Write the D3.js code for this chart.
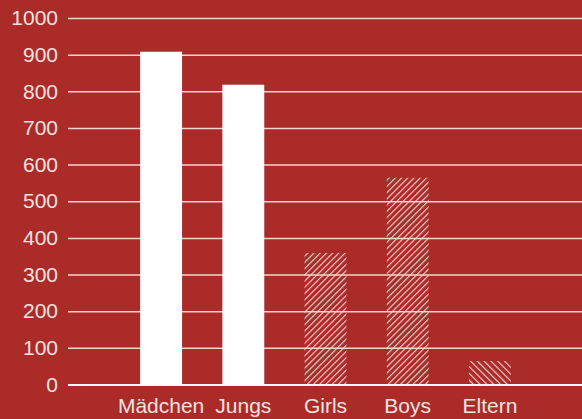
<!DOCTYPE html>
<html>
<head>
<meta charset="utf-8">
<script src="https://cdn.jsdelivr.net/npm/d3@7"></script>
<style>
  body { margin: 0; background: #aa2b28; }
  svg { display: block; }
  text { font-family: "Liberation Sans", Arial, sans-serif; }
</style>
</head>
<body>
<svg id="chart"></svg>
<script>
// data
let categories = ["Mädchen", "Jungs", "Girls", "Boys", "Eltern"];
let values = [908, 818, 359, 564, 64];
let fills = ["solid", "solid", "hatchUp", "hatchUp", "hatchDown"];
let yTicks = [0, 100, 200, 300, 400, 500, 600, 700, 800, 900, 1000];

let width = 582, height = 419;
let margin = {top: 18, right: 0, bottom: 34.5, left: 68};

let svg = d3.select('#chart')
    .attr('width', width)
    .attr('height', height);

svg.append('rect')
    .attr('width', width)
    .attr('height', height)
    .attr('fill', '#aa2b28');

// hatch patterns
let defs = svg.append('defs');
let hatchUp = defs.append('pattern')
    .attr('id', 'hatchUp')
    .attr('patternUnits', 'userSpaceOnUse')
    .attr('width', 4.4)
    .attr('height', 4.4)
    .attr('patternTransform', 'rotate(45)');
hatchUp.append('line')
    .attr('x1', 0).attr('y1', 0).attr('x2', 0).attr('y2', 4.4)
    .attr('stroke', '#f6d6d4')
    .attr('stroke-width', 2.2);

let hatchDown = defs.append('pattern')
    .attr('id', 'hatchDown')
    .attr('patternUnits', 'userSpaceOnUse')
    .attr('width', 4.8)
    .attr('height', 4.8)
    .attr('patternTransform', 'rotate(-45)');
hatchDown.append('line')
    .attr('x1', 0).attr('y1', 0).attr('x2', 0).attr('y2', 4.8)
    .attr('stroke', '#f6d6d4')
    .attr('stroke-width', 2.2);

let y = d3.scaleLinear()
    .domain([0, 1000])
    .range([height - margin.bottom, margin.top]);

let x = d3.scaleBand()
    .domain(categories)
    .range([120, 531])
    .paddingInner(0.49)
    .paddingOuter(0.245);

// gridlines + y labels (under the bars)
let yAxis = svg.append('g')
    .attr('transform', 'translate(' + margin.left + ',0)')
    .call(d3.axisLeft(y)
        .tickValues(yTicks)
        .tickSize(-(width - margin.left))
        .tickPadding(10)
        .tickFormat(d3.format('d')));
yAxis.select('.domain').remove();
yAxis.selectAll('.tick line')
    .attr('stroke', '#f4d2d0')
    .attr('stroke-width', 1.5);
yAxis.selectAll('.tick text')
    .attr('fill', '#f6e2e0')
    .attr('font-size', 21)
    .attr('font-family', '"Liberation Sans", Arial, sans-serif');
yAxis.selectAll('.tick')
    .filter(d => d === 0)
    .select('line')
    .attr('stroke', '#ffffff')
    .attr('stroke-width', 2);

// bars
svg.append('g')
    .selectAll('rect')
    .data(categories)
    .join('rect')
    .attr('x', d => x(d))
    .attr('width', x.bandwidth())
    .attr('y', (d, i) => y(values[i]))
    .attr('height', (d, i) => y(0) - y(values[i]))
    .attr('fill', (d, i) => fills[i] === 'solid' ? '#ffffff' : 'url(#' + fills[i] + ')');

// x labels
let xAxis = svg.append('g')
    .attr('transform', 'translate(0,' + y(0) + ')')
    .call(d3.axisBottom(x).tickSize(0).tickPadding(14));
xAxis.select('.domain').remove();
xAxis.selectAll('.tick text')
    .attr('fill', '#f6e2e0')
    .attr('font-size', 21)
    .attr('font-family', '"Liberation Sans", Arial, sans-serif');
</script>
</body>
</html>
